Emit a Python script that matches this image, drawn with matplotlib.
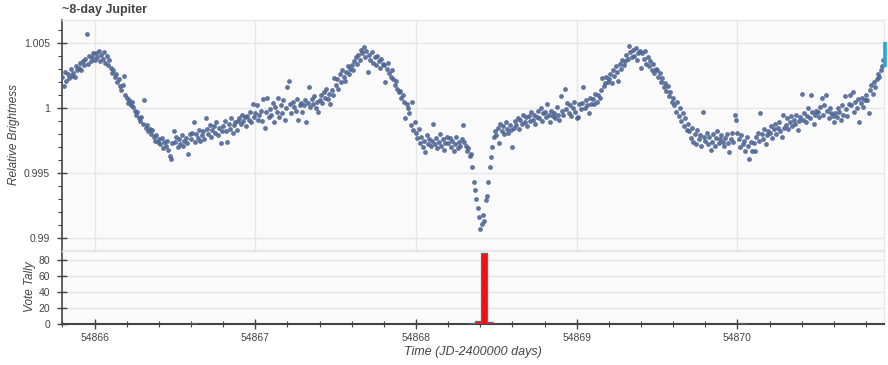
import numpy as np
import matplotlib
matplotlib.use("Agg")
import matplotlib.pyplot as plt
from matplotlib.ticker import MultipleLocator, FixedLocator, FuncFormatter

plt.rcParams["font.family"] = ["Liberation Sans", "DejaVu Sans"]

# ---------------- data ----------------
title = "~8-day Jupiter"
start_day = 54865.80          # first sample of the light curve
block_days = 0.1              # each row below covers 0.1 day
cadence = 0.1 / 12            # 12 samples per row

# relative brightness offsets in parts-per-thousand (brightness = 1 + ppt/1000)
flux_ppt_rows = [
    [2.4, 1.7, 2.8, 2.1, 2.6, 2.3, 3.0, 2.5, 2.7, 2.4, 3.2, 2.9],
    [3.1, 3.5, 2.9, 3.6, 3.3, 3.8, 5.7, 3.4, 4.0, 3.6, 3.9, 4.2],
    [3.7, 4.2, 3.9, 4.4, 3.6, 4.1, 3.8, 4.3, 3.5, 4.0, 3.3, 3.7],
    [3.1, 2.7, 2.9, 2.4, 2.6, 2.0, 2.2, 1.7, 1.4, 1.8, 2.5, 1.0],
    [0.8, 0.4, 0.6, 0.2, 0.5, 0.1, -0.2, -0.5, -0.3, -0.8, -1.0, -0.7],
    [-1.2, 0.6, -1.5, -1.3, -1.8, -1.6, -2.0, -1.7, -2.2, -2.5, -2.1, -2.6],
    [-2.4, -2.8, -2.3, -3.1, -2.6, -2.9, -2.5, -3.2, -3.7, -3.9, -2.7, -1.8],
    [-2.6, -2.2, -3.0, -2.4, -2.8, -2.1, -2.9, -2.5, -2.3, -2.7, -3.5, -2.0],
    [-2.4, -1.9, -1.1, -2.6, -2.0, -2.3, -1.7, -2.5, -2.1, -1.8, -2.4, -0.8],
    [-1.6, -2.0, -1.3, -2.2, -1.7, -1.4, -1.9, -1.1, -2.1, -1.5, -2.7, -1.8],
    [-1.4, -1.0, -1.8, -2.6, -1.2, -1.6, -0.8, -1.9, -1.3, -1.1, -1.7, -1.0],
    [-0.8, -1.2, -0.5, -1.0, -0.7, -1.4, -0.6, -0.9, -0.3, -1.1, 0.3, -0.7],
    [-0.4, 0.2, -0.9, -0.5, -0.2, -1.0, 0.7, -1.5, -0.3, 0.8, -0.7, -0.1],
    [-0.5, 0.4, -1.1, 0.1, -0.3, 0.8, -0.7, 0.2, -0.4, 0.6, -0.9, 0.0],
    [1.6, 2.1, 0.3, -0.4, 0.5, 0.1, -0.2, 0.7, -0.9, 0.2, 0.4, -0.3],
    [0.2, 0.6, -1.1, 0.4, 1.6, 0.1, 0.7, 0.3, 0.9, 0.0, 0.5, -0.3],
    [0.6, 1.0, 0.4, 1.2, 0.8, 1.5, 0.7, 1.1, 0.3, 1.4, 1.0, 2.3],
    [1.8, 2.2, 1.5, 2.6, 2.0, 2.9, 2.4, 2.1, 2.8, 3.2, 2.6, 3.0],
    [3.3, 2.9, 3.6, 3.9, 3.4, 4.1, 3.7, 4.5, 4.2, 4.7, 3.9, 4.4],
    [2.8, 4.1, 3.7, 4.3, 3.5, 3.9, 3.3, 4.0, 3.6, 3.1, 3.8, 3.4],
    [3.3, 2.0, 3.0, 3.5, 2.7, 2.4, 2.9, 2.2, 1.8, 2.1, 1.5, 1.2],
    [1.3, 0.8, 1.0, 0.5, -0.8, 0.3, 0.0, -0.4, -1.3, 0.5, -1.7, -1.1],
    [-1.9, -2.3, -1.6, -2.7, -2.2, -3.0, -2.5, -3.4, -2.1, -2.8, -2.4, -2.9],
    [-2.5, -1.2, -2.8, -2.3, -3.1, -2.6, -2.0, -2.9, -2.4, -3.2, -2.7, -2.2],
    [-2.7, -2.3, -3.0, -2.5, -3.3, -2.8, -2.2, -3.1, -2.6, -2.9, -2.4, -1.3],
    [-2.6, -2.9, -3.3, -3.1, -3.7, -3.5, -4.5, -5.7, -6.3, -7.0, -7.7, -8.4],
    [-9.3, -8.9, -8.2, -8.7, -7.1, -6.8, -5.7, -4.5, -3.8, -3.0, -2.2, -1.8],
    [-2.1, -1.5, -2.7, -1.2, -1.8, -1.4, -2.0, -1.1, -1.6, -1.9, -1.3, -1.7],
    [-3.0, -1.5, -1.0, -1.3, -0.8, -1.6, -0.9, -1.2, -0.5, -1.1, -0.7, -1.4],
    [-0.6, -1.0, -0.3, -0.9, -0.5, -1.2, -0.7, -0.2, -0.8, 0.0, -1.0, -0.4],
    [-0.3, -0.7, 0.3, -0.5, -1.1, -0.2, -0.6, -0.4, -0.8, 0.1, -0.5, -0.9],
    [0.9, -0.2, -0.5, 1.5, -0.1, 0.4, -0.4, 0.2, -0.6, 0.0, 0.5, -0.3],
    [-0.8, -0.7, 0.3, -0.1, 0.4, 1.6, 0.0, 0.6, 0.2, -0.4, 0.8, 0.3],
    [0.7, 0.3, 1.1, 0.5, 1.0, 0.8, 1.4, 2.3, 1.7, 1.9, 2.4, 2.0],
    [2.2, 2.6, 1.9, 2.9, 2.5, 3.2, 2.8, 2.1, 3.4, 3.0, 3.7, 3.3],
    [3.6, 4.1, 3.8, 4.8, 4.3, 3.9, 4.5, 4.0, 4.6, 3.7, 4.2, 4.4],
    [3.1, 4.2, 3.8, 4.4, 3.4, 3.9, 3.2, 3.6, 2.9, 3.4, 2.7, 3.0],
    [2.9, 2.4, 2.7, 2.0, 2.3, 1.6, 1.9, 1.3, 1.7, 0.9, 1.2, 0.5],
    [0.8, 0.2, -0.3, 0.5, -0.6, 0.0, -1.0, -0.4, -1.4, -0.8, -1.7, -1.2],
    [-1.8, -2.3, -1.5, -2.6, -2.0, -2.8, -1.7, -2.4, -2.1, -2.9, -0.3, -2.2],
    [-2.5, -1.9, -2.8, -2.2, -3.2, -2.6, -2.0, -2.9, -2.3, -1.8, -2.7, -2.4],
    [-2.1, -2.6, -2.9, -2.3, -2.0, -2.7, -3.4, -2.4, -1.9, -2.6, -0.5, -0.9],
    [-1.9, -2.4, -3.0, -2.1, -2.8, -2.5, -3.3, -2.2, -2.9, -3.9, -2.6, -3.3],
    [-2.7, -3.3, -2.2, -1.9, -2.5, -0.4, -2.0, -2.4, -1.6, -2.8, -2.1, -1.8],
    [-1.9, -1.4, -2.3, -1.6, -1.2, -2.0, -1.5, -1.1, -1.8, -2.2, -0.5, -1.5],
    [-1.3, -0.8, -1.6, -1.1, -0.6, -1.4, -0.9, -1.2, -0.5, -1.7, -1.0, -0.7],
    [1.1, -0.9, -0.4, -1.1, -0.6, 0.0, -0.8, 1.0, -0.3, -1.2, -0.5, -0.2],
    [-0.3, -0.7, 0.1, 0.8, -0.5, 0.2, 1.0, -0.2, -0.8, 0.0, -0.4, -0.6],
    [-1.1, -0.4, -0.7, 0.0, -0.3, -0.9, 0.2, -0.5, 0.9, -0.1, -0.6, 0.3],
    [1.0, 0.2, 1.2, -0.3, 0.5, 0.0, 0.7, -1.1, 0.4, 0.8, 0.1, 0.6],
    [1.0, 0.6, -0.4, 1.4, 1.8, 1.1, 2.0, 1.6, 2.2, 2.6, 2.4, 2.9],
    [3.2, 3.7],
]

# vote tally histogram (bin centres in days, bin width, counts)
vote_time = [54866.618, 54868.348, 54868.386, 54868.422, 54868.459, 54870.029]
vote_count = [1, 1, 4, 89, 3, 1]
vote_bin_width = 0.036

x_ticks = [54866, 54867, 54868, 54869, 54870]
bright_ticks = [0.99, 0.995, 1.0, 1.005]
vote_ticks = [0, 20, 40, 60, 80]

# ---------------- assemble light curve ----------------
times, bright = [], []
for k, row in enumerate(flux_ppt_rows):
    for j, v in enumerate(row):
        times.append(start_day + k * block_days + j * cadence)
        bright.append(1.0 + v / 1000.0)
times = np.array(times)
bright = np.array(bright)

# ---------------- figure ----------------
TXT = "#444444"
GRID = "#e6e6e6"
PLOTBG = "#fafafa"

fig = plt.figure(figsize=(8.88, 3.65), dpi=100)
ax = fig.add_axes([62 / 888, 1 - 250 / 365, 822 / 888, 230 / 365])
axv = fig.add_axes([62 / 888, 1 - 324 / 365, 822 / 888, 73 / 365], sharex=ax)

xmin, xmax = 54865.797, 54870.912

for a in (ax, axv):
    a.set_facecolor(PLOTBG)
    for s in ("top", "right", "bottom"):
        a.spines[s].set_color(GRID)
        a.spines[s].set_linewidth(1.0)
    a.spines["left"].set_color(TXT)
    a.spines["left"].set_linewidth(1.2)
    a.set_axisbelow(True)
    a.tick_params(axis="both", colors=TXT, labelcolor=TXT, labelsize=7.5)

# --- top panel
ax.scatter(times, bright, s=12, color="#4a6291", alpha=0.88, linewidths=0, zorder=3)
ax.set_xlim(xmin, xmax)
ax.set_ylim(0.98908, 1.00677)
ax.yaxis.set_major_locator(FixedLocator(bright_ticks))
ax.yaxis.set_minor_locator(MultipleLocator(0.001))
ax.yaxis.set_major_formatter(FuncFormatter(lambda v, p: ("%.3f" % v).rstrip("0").rstrip(".")))
ax.xaxis.set_major_locator(FixedLocator(x_ticks))
ax.grid(True, which="major", color=GRID, linewidth=1.0)
ax.tick_params(axis="x", which="both", bottom=False, labelbottom=False)
ax.tick_params(axis="y", which="major", direction="inout", length=7, width=1, pad=5)
ax.tick_params(axis="y", which="minor", direction="out", length=3, width=0.8, color=TXT)

# blue selection marker on the right edge
ax.plot([1.0015, 1.0015], [0.796, 0.904], transform=ax.transAxes, color="#2aa6df",
        lw=2.6, clip_on=False, solid_capstyle="butt", zorder=5)

# --- bottom panel
axv.bar(vote_time, vote_count, width=vote_bin_width, color="#ff0a0a",
        edgecolor="#5b6784", linewidth=0.9, zorder=3)
axv.set_ylim(0, 91.5)
axv.yaxis.set_major_locator(FixedLocator(vote_ticks))
axv.grid(True, axis="y", which="major", color=GRID, linewidth=1.0)
axv.spines["bottom"].set_color(TXT)
axv.spines["bottom"].set_linewidth(1.5)
axv.xaxis.set_major_locator(FixedLocator(x_ticks))
axv.xaxis.set_minor_locator(MultipleLocator(0.2))
axv.xaxis.set_major_formatter(FuncFormatter(lambda v, p: "%d" % round(v)))
axv.tick_params(axis="x", which="major", direction="inout", length=7, width=1, pad=3)
axv.tick_params(axis="x", which="minor", direction="inout", length=4, width=0.8, color=TXT)
axv.tick_params(axis="y", which="major", direction="inout", length=7, width=1, pad=5)
axv.set_xlim(xmin, xmax)

# axis titles placed as in the reference
fig.text(14 / 888, 1 - 135 / 365, "Relative Brightness", rotation=90, fontsize=8.5,
         style="italic", color=TXT, ha="center", va="center")
fig.text(30 / 888, 1 - 287 / 365, "Vote Tally", rotation=90, fontsize=8.5,
         style="italic", color=TXT, ha="center", va="center")
fig.text(473 / 888, 1 - 352 / 365, "Time (JD-2400000 days)", fontsize=9,
         style="italic", color=TXT, ha="center", va="center")
fig.text(62 / 888, 1 - 10 / 365, title, fontsize=9, fontweight="bold", color=TXT,
         ha="left", va="center")

fig.savefig("out.png", dpi=100, facecolor="white")
